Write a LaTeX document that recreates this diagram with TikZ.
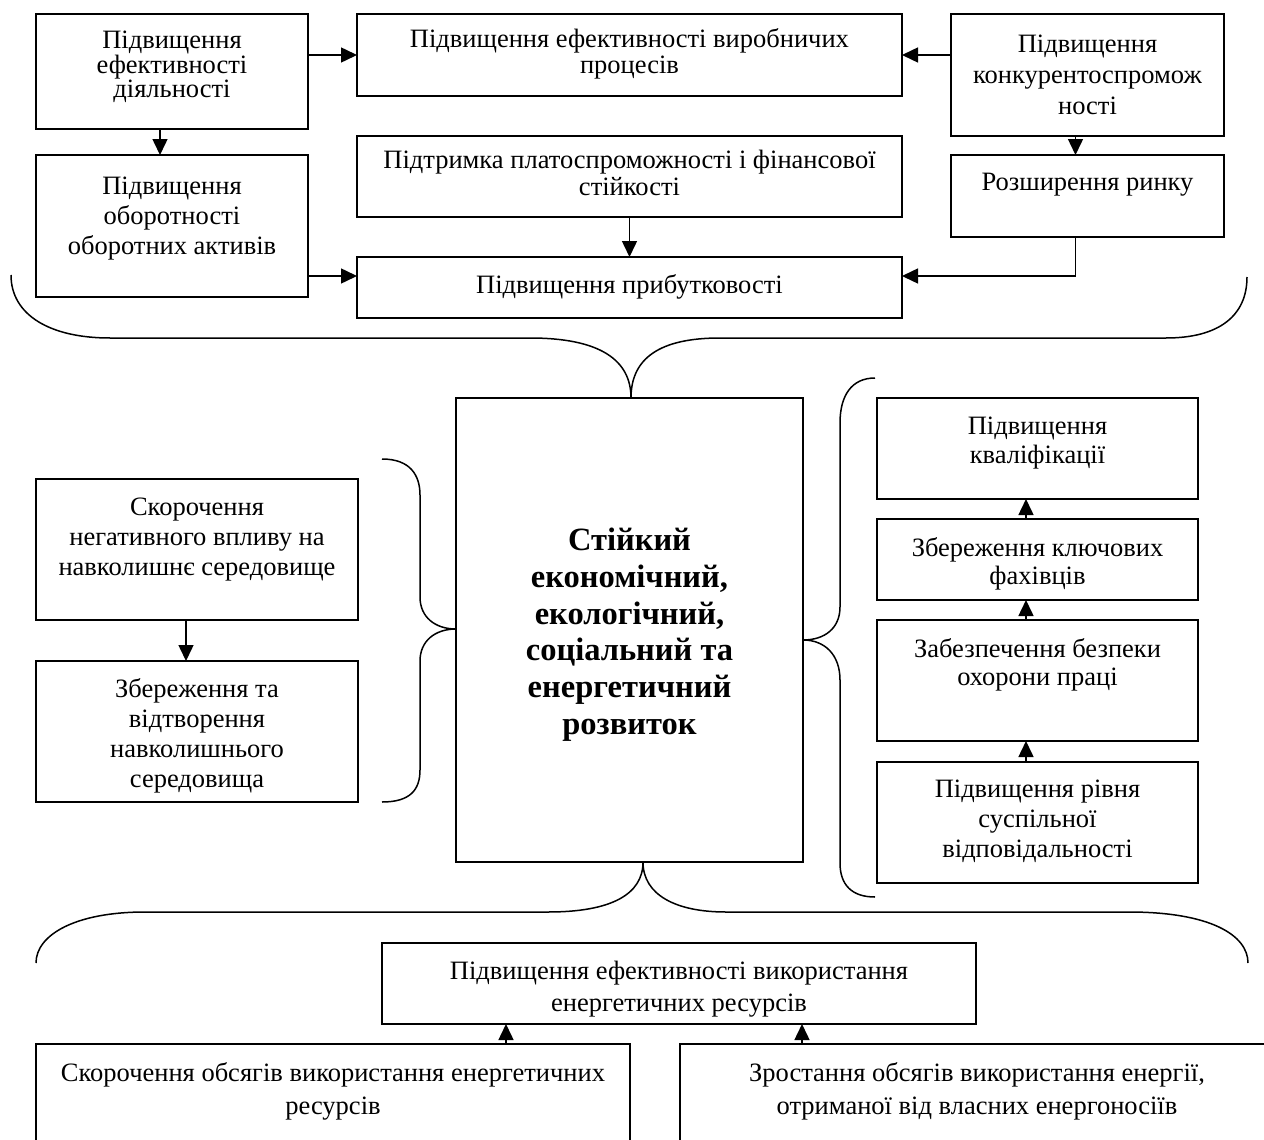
\documentclass[tikz,border=0pt]{standalone}
\usepackage{fontspec}
\setmainfont{Liberation Serif}
\usetikzlibrary{arrows.meta,calc}
\begin{document}
\begin{tikzpicture}[x=1pt,y=-1pt,
  box/.style={draw, line width=1.8pt, inner sep=0pt, outer sep=0pt, anchor=north west},
  txt/.style={anchor=north, inner sep=0pt, align=center, font=\fontsize{26.5}{#1}\selectfont},
  txt/.default=30,
  btxt/.style={anchor=north, inner sep=0pt, align=center, font=\fontsize{32.5}{36.7}\selectfont\bfseries},
  arr/.style={line width=1.5pt, -{Triangle[length=16pt,width=15pt]}},
  brace/.style={line width=1.5pt}]
\useasboundingbox (0,0) rectangle (1264,1140);
\fill[white] (0,0) rectangle (1264,1140);
\clip (0,0) rectangle (1264,1140);

% boxes
\node[box, minimum width=272pt, minimum height=115pt] (A) at (36,14) {};
\node[box, minimum width=545pt, minimum height=82pt] (B) at (357,14) {};
\node[box, minimum width=272pt, minimum height=142pt] (C) at (36,155) {};
\node[box, minimum width=545pt, minimum height=81pt] (D) at (357,136) {};
\node[box, minimum width=545pt, minimum height=61pt] (E) at (357,257) {};
\node[box, minimum width=273pt, minimum height=122pt] (F) at (951,14) {};
\node[box, minimum width=273pt, minimum height=82pt] (G) at (951,155) {};
\node[box, minimum width=347pt, minimum height=464pt] (Z) at (456,398) {};
\node[box, minimum width=322pt, minimum height=141pt] (H) at (36,479) {};
\node[box, minimum width=322pt, minimum height=141pt] (I) at (36,661) {};
\node[box, minimum width=321pt, minimum height=101pt] (J) at (877,398) {};
\node[box, minimum width=321pt, minimum height=81pt] (K) at (877,519) {};
\node[box, minimum width=321pt, minimum height=121pt] (L) at (877,620) {};
\node[box, minimum width=321pt, minimum height=121pt] (M) at (877,762) {};
\node[box, minimum width=594pt, minimum height=81pt] (N) at (382,943) {};
\node[box, minimum width=594pt, minimum height=150pt] (O) at (36,1044) {};
\node[box, minimum width=594pt, minimum height=150pt] (P) at (680,1044) {};

% texts
\node[txt=24.5] (tA) at (172,31) {Підвищення\\ефективності\\діяльності};
\node[txt=26] (tB) at (629.5,28) {Підвищення ефективності виробничих\\процесів};
\node[txt=30] (tC) at (172,177) {Підвищення\\оборотності\\оборотних активів};
\node[txt=27] (tD) at (629.5,150) {Підтримка платоспроможності і фінансової\\стійкості};
\node[txt] (tE) at (629.5,274) {Підвищення прибутковості};
\node[txt=31] (tF) at (1087.5,35) {Підвищення\\конкурентоспромож\\ності};
\node[txt] (tG) at (1087.5,173) {Розширення ринку};
\node[btxt] (tZ) at (629.5,528) {Стійкий\\економічний,\\екологічний,\\соціальний та\\енергетичний\\розвиток};
\node[txt=30] (tH) at (197,498) {Скорочення\\негативного впливу на\\навколишнє середовище};
\node[txt=30] (tI) at (197,678) {Збереження та\\відтворення\\навколишнього\\середовища};
\node[txt=29] (tJ) at (1037.5,417) {Підвищення\\кваліфікації};
\node[txt=28] (tK) at (1037.5,537) {Збереження ключових\\фахівців};
\node[txt=28] (tL) at (1037.5,638) {Забезпечення безпеки\\охорони праці};
\node[txt=30] (tM) at (1037.5,780) {Підвищення рівня\\суспільної\\відповідальності};
\node[txt=32] (tN) at (679,961) {Підвищення ефективності використання\\енергетичних ресурсів};
\node[txt=33] (tO) at (333,1062) {Скорочення обсягів використання енергетичних\\ресурсів};
\node[txt=33] (tP) at (977,1062) {Зростання обсягів використання енергії,\\отриманої від власних енергоносіїв};

% connectors
\draw[arr] (B.west -| A.east) -- (B.west);
\draw[arr] (B.east -| F.west) -- (B.east);
\coordinate (a1) at ($(A.south)+(-12,0)$);
\draw[arr] (a1) -- (a1 |- C.north);
\coordinate (e1) at ($(E.west)+(0,-11.5)$);
\draw[arr] (e1 -| C.east) -- (e1);
\draw[arr] (D.south) -- (D.south |- E.north);
\coordinate (f1) at ($(F.south)+(-12,0)$);
\draw[arr] (f1) -- (f1 |- G.north);
\coordinate (e2) at ($(E.east)+(0,-11.5)$);
\draw[arr] (f1 |- G.south) |- (e2);
\coordinate (h1) at ($(H.south)+(-11,0)$);
\draw[arr] (h1) -- (h1 |- I.north);
\coordinate (r1) at ($(J.south)+(-11.5,0)$);
\draw[arr] (r1 |- K.north) -- (r1);
\draw[arr] (r1 |- L.north) -- (r1 |- K.south);
\draw[arr] (r1 |- M.north) -- (r1 |- L.south);
\coordinate (n1) at ($(N.south west)+(124,0)$);
\draw[arr] (n1 |- O.north) -- (n1);
\coordinate (n2) at ($(N.south west)+(420,0)$);
\draw[arr] (n2 |- P.north) -- (n2);

% braces
\draw[brace] (11,275) .. controls (11,315) and (50,338) .. (110,338) -- (530,338)
  .. controls (600,338) and (631,360) .. (Z.north -| 631,0);
\draw[brace] (Z.north -| 631,0) .. controls (631,358) and (660,338) .. (720,338) -- (1166,338)
  .. controls (1220,338) and (1247,315) .. (1247,277);
\draw[brace] (36,963) .. controls (36,935) and (75,912) .. (145,912) -- (548,912)
  .. controls (610,912) and (643,895) .. (Z.south -| 643,0);
\draw[brace] (Z.south -| 643,0) .. controls (643,895) and (676,912) .. (726,912) -- (1129,912)
  .. controls (1210,912) and (1248,935) .. (1248,963);
\draw[brace] (382,459) .. controls (410,459) and (420,475) .. (420,495) -- (420,597)
  .. controls (420,617) and (435,629) .. (Z.west |- 0,629);
\draw[brace] (Z.west |- 0,629) .. controls (435,629) and (420,641) .. (420,661) -- (420,770)
  .. controls (420,790) and (410,802) .. (382,802);
\draw[brace] (875,378) .. controls (852,378) and (840,395) .. (840,423) -- (840,607)
  .. controls (840,628) and (825,640) .. (Z.east |- 0,640);
\draw[brace] (Z.east |- 0,640) .. controls (825,640) and (840,655) .. (840,680) -- (840,863)
  .. controls (840,885) and (852,897) .. (875,897);
\end{tikzpicture}
\end{document}
